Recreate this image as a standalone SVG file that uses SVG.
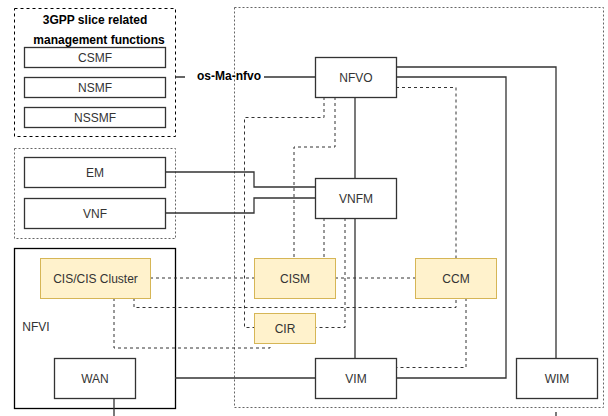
<svg xmlns="http://www.w3.org/2000/svg" width="608" height="416" viewBox="0 0 608 416">
<style>
.box{fill:#fff;stroke:#333;stroke-width:1.3}
.ybox{fill:#fff2cc;stroke:#d6b656;stroke-width:1}
.t{font-family:"Liberation Sans",Arial,sans-serif;font-size:12px;fill:#333;text-anchor:middle;dominant-baseline:central}
.b{font-weight:bold;fill:#000}
.ln{fill:none;stroke:#333;stroke-width:1.3}
.dl{fill:none;stroke:#333;stroke-width:1;stroke-dasharray:3,3}
.grp1{fill:none;stroke:#000;stroke-width:1;stroke-dasharray:3,3}
.grp2{fill:none;stroke:#666;stroke-width:1;stroke-dasharray:2,2}
</style>
<rect width="608" height="416" fill="#fff"/>
<g id="groups">
<rect class="grp2" x="234.5" y="7.5" width="369" height="400"/>
<rect class="grp1" x="14.5" y="8.5" width="161" height="128"/>
<rect class="grp2" x="14.5" y="148.5" width="161" height="90"/>
<rect x="14.5" y="248.5" width="161" height="160" fill="none" stroke="#000" stroke-width="1.3"/>
</g>
<g id="connectors">
<path class="ln" d="M175 77H185M264 77H315"/>
<path class="ln" d="M396 67H556V358"/>
<path class="ln" d="M396 77H506V378H396"/>
<path class="ln" d="M355 97V178M355 218V358"/>
<path class="ln" d="M165 172H254V187H315M165 213H254V198H315"/>
<path class="ln" d="M175 378H315"/>
<path class="ln" d="M114 398V416M556 412V416"/>
<path class="dl" d="M396 87.5H456V258"/>
<path class="dl" d="M324 97V117.5H244.5V327.5H254"/>
<path class="dl" d="M335 97V147H294V258"/>
<path class="dl" d="M324 218V258"/>
<path class="dl" d="M345 218V327.5H315"/>
<path class="dl" d="M150 278H254M335 278H415"/>
<path class="dl" d="M134 298V307.5H456V298"/>
<path class="dl" d="M114 298V348H270V343"/>
<path class="dl" d="M466 298V367.5H396"/>
</g>
<g id="title"><text class="t b" x="95" y="20">3GPP slice related</text><text class="t b" x="99" y="40">management functions</text></g>
<g id="label-osma"><text class="t b" x="229" y="76">os-Ma-nfvo</text></g>
<g id="csmf"><rect class="box" x="24.5" y="47.5" width="141" height="20"/><text class="t" x="95" y="57.5">CSMF</text></g>
<g id="nsmf"><rect class="box" x="24.5" y="77.5" width="141" height="20"/><text class="t" x="95" y="87.5">NSMF</text></g>
<g id="nssmf"><rect class="box" x="24.5" y="107.5" width="141" height="20"/><text class="t" x="95" y="117.5">NSSMF</text></g>
<g id="em"><rect class="box" x="24.5" y="157.5" width="141" height="30"/><text class="t" x="95" y="172.5">EM</text></g>
<g id="vnf"><rect class="box" x="24.5" y="198.5" width="141" height="30"/><text class="t" x="95" y="213.5">VNF</text></g>
<g id="nfvi"><text class="t" x="36" y="327" style="text-anchor:middle">NFVI</text></g>
<g id="cis"><rect class="ybox" x="40.5" y="258.5" width="110" height="40"/><text class="t" x="95.5" y="278.5">CIS/CIS Cluster</text></g>
<g id="wan"><rect class="box" x="54.5" y="358.5" width="81" height="40"/><text class="t" x="95" y="378.5">WAN</text></g>
<g id="nfvo"><rect class="box" x="315.5" y="57.5" width="81" height="40"/><text class="t" x="356" y="77.5">NFVO</text></g>
<g id="vnfm"><rect class="box" x="315.5" y="178.5" width="81" height="40"/><text class="t" x="356" y="198.5">VNFM</text></g>
<g id="cism"><rect class="ybox" x="254.5" y="258.5" width="81" height="40"/><text class="t" x="295" y="278.5">CISM</text></g>
<g id="ccm"><rect class="ybox" x="415.5" y="258.5" width="81" height="40"/><text class="t" x="456" y="278.5">CCM</text></g>
<g id="cir"><rect class="ybox" x="254.5" y="313.5" width="61" height="30"/><text class="t" x="285" y="328.5">CIR</text></g>
<g id="vim"><rect class="box" x="315.5" y="358.5" width="81" height="40"/><text class="t" x="356" y="378.5">VIM</text></g>
<g id="wim"><rect class="box" x="516.5" y="358.5" width="81" height="40"/><text class="t" x="557" y="378.5">WIM</text></g>
</svg>
